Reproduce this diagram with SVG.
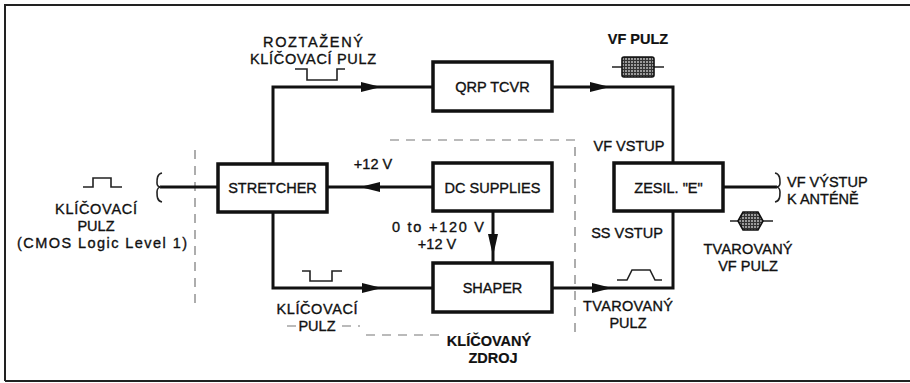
<svg xmlns="http://www.w3.org/2000/svg" width="910" height="383" viewBox="0 0 910 383">
<style>
.box{fill:#fff;stroke:#111;stroke-width:3.5}
.wire{fill:none;stroke:#111;stroke-width:3;stroke-linejoin:miter}
.ah{fill:#111;stroke:none}
.thin{fill:none;stroke:#222;stroke-width:1.6}
.dash{fill:none;stroke:#777;stroke-width:1.2;stroke-dasharray:9 7}
text{font-family:"Liberation Sans",Arial,Helvetica,sans-serif;font-size:14.5px;fill:#111;stroke:#111;stroke-width:0.35;text-anchor:middle}
.b{font-weight:bold;stroke-width:0.2}
.l{text-anchor:start}
</style>
<defs>
<pattern id="mesh" patternUnits="userSpaceOnUse" width="3" height="3">
<rect width="3" height="3" fill="#9a9a9a"/>
<path d="M0,0.5 H3 M0.5,0 V3" stroke="#333" stroke-width="1"/>
</pattern>
</defs>
<rect width="910" height="383" fill="#fff"/>
<path d="M5,381 V5 H910 M5,381 H910" fill="none" stroke="#222" stroke-width="2"/>

<g id="boundary">
<path class="dash" d="M195,150 V305 M390,140 H575 V334 M567,140 H575 M287,326 H297 M342,326 H360 M366,335 H443"/>
</g>

<g id="connectors">
<path class="wire" d="M160,187 H218"/>
<path class="wire" d="M273,164 V87 H433"/>
<path class="ah" d="M361,82 L381,87 L361,92 Z"/>
<path class="wire" d="M552,87 H673 V163"/>
<path class="ah" d="M590,82 L610,87 L590,92 Z"/>
<path class="wire" d="M433,187 H327"/>
<path class="ah" d="M380,182 L360,187 L380,192 Z"/>
<path class="wire" d="M273,212 V288 H433"/>
<path class="ah" d="M362,283 L382,288 L362,293 Z"/>
<path class="wire" d="M493,211 V263"/>
<path class="ah" d="M488,234 L493,256 L498,234 Z"/>
<path class="wire" d="M552,288 H673 V211"/>
<path class="ah" d="M592,283 L612,288 L592,293 Z"/>
<path class="wire" d="M723,187 H777"/>
<path class="thin" stroke-width="2.2" d="M162,173 C157,174 157,179 157,183 C157,186 159,187 161,187 C159,187 157,189 157,192 C157,196 157,201 162,202"/>
<path class="thin" stroke-width="2.2" d="M775,173 C780,174 780,179 780,183 C780,186 778,187 776,187 C778,187 780,189 780,192 C780,196 780,201 775,202"/>
</g>

<g id="stretcher">
<rect class="box" x="218" y="164" width="109" height="48"/>
<text x="272.5" y="193">STRETCHER</text>
</g>
<g id="dc-supplies">
<rect class="box" x="433" y="163" width="119" height="48"/>
<text x="492.5" y="193">DC SUPPLIES</text>
</g>
<g id="qrp-tcvr">
<rect class="box" x="433" y="62" width="119" height="49"/>
<text x="492.5" y="92">QRP TCVR</text>
</g>
<g id="shaper">
<rect class="box" x="433" y="263" width="119" height="49"/>
<text x="492.5" y="293">SHAPER</text>
</g>
<g id="zesil">
<rect class="box" x="614" y="163" width="109" height="48"/>
<text x="668.5" y="193">ZESIL. "E"</text>
</g>

<g id="pulses">
<path class="thin" d="M83,187 H93 V178 H111 V187 H122"/>
<path class="thin" d="M295,69 H307 V80 H337 V69 H345"/>
<path class="thin" d="M302,271 H310 V281 H332 V271 H342"/>
<path class="thin" d="M617,280 H627 L632,270 H650 L655,280 H662"/>
<path class="thin" d="M612,67 H622 M654,67 H664"/>
<rect x="622" y="57" width="32" height="20" rx="2" fill="url(#mesh)" stroke="#111" stroke-width="1.6"/>
<path class="thin" d="M730,221 H738 M763,221 H773"/>
<path d="M738,221 L743,212 H758 L763,221 L758,230 H743 Z" fill="url(#mesh)" stroke="#111" stroke-width="1.6"/>
</g>

<g id="labels">
<text x="313" y="47" textLength="100">ROZTAŽENÝ</text>
<text x="313" y="64" textLength="126">KLÍČOVACÍ PULZ</text>
<text class="b" x="638" y="44">VF PULZ</text>
<text x="373" y="169">+12 V</text>
<text x="629" y="151">VF VSTUP</text>
<text class="l" x="787" y="187">VF VÝSTUP</text>
<text class="l" x="787" y="204">K ANTÉNĚ</text>
<text x="96" y="214" textLength="82">KLÍČOVACÍ</text>
<text x="96" y="231">PULZ</text>
<text x="102" y="248" font-size="15.5" textLength="170">(CMOS Logic Level 1)</text>
<text x="438" y="232" textLength="92">0 to +120 V</text>
<text x="437" y="249">+12 V</text>
<text x="627" y="238">SS VSTUP</text>
<text x="317" y="314" textLength="81">KLÍČOVACÍ</text>
<text x="317" y="331">PULZ</text>
<text x="628" y="311" textLength="90">TVAROVANÝ</text>
<text x="628" y="328">PULZ</text>
<text x="748" y="254" textLength="89">TVAROVANÝ</text>
<text x="748" y="271">VF PULZ</text>
<text class="b" x="489" y="346">KLÍČOVANÝ</text>
<text class="b" x="493" y="363">ZDROJ</text>
</g>
</svg>
